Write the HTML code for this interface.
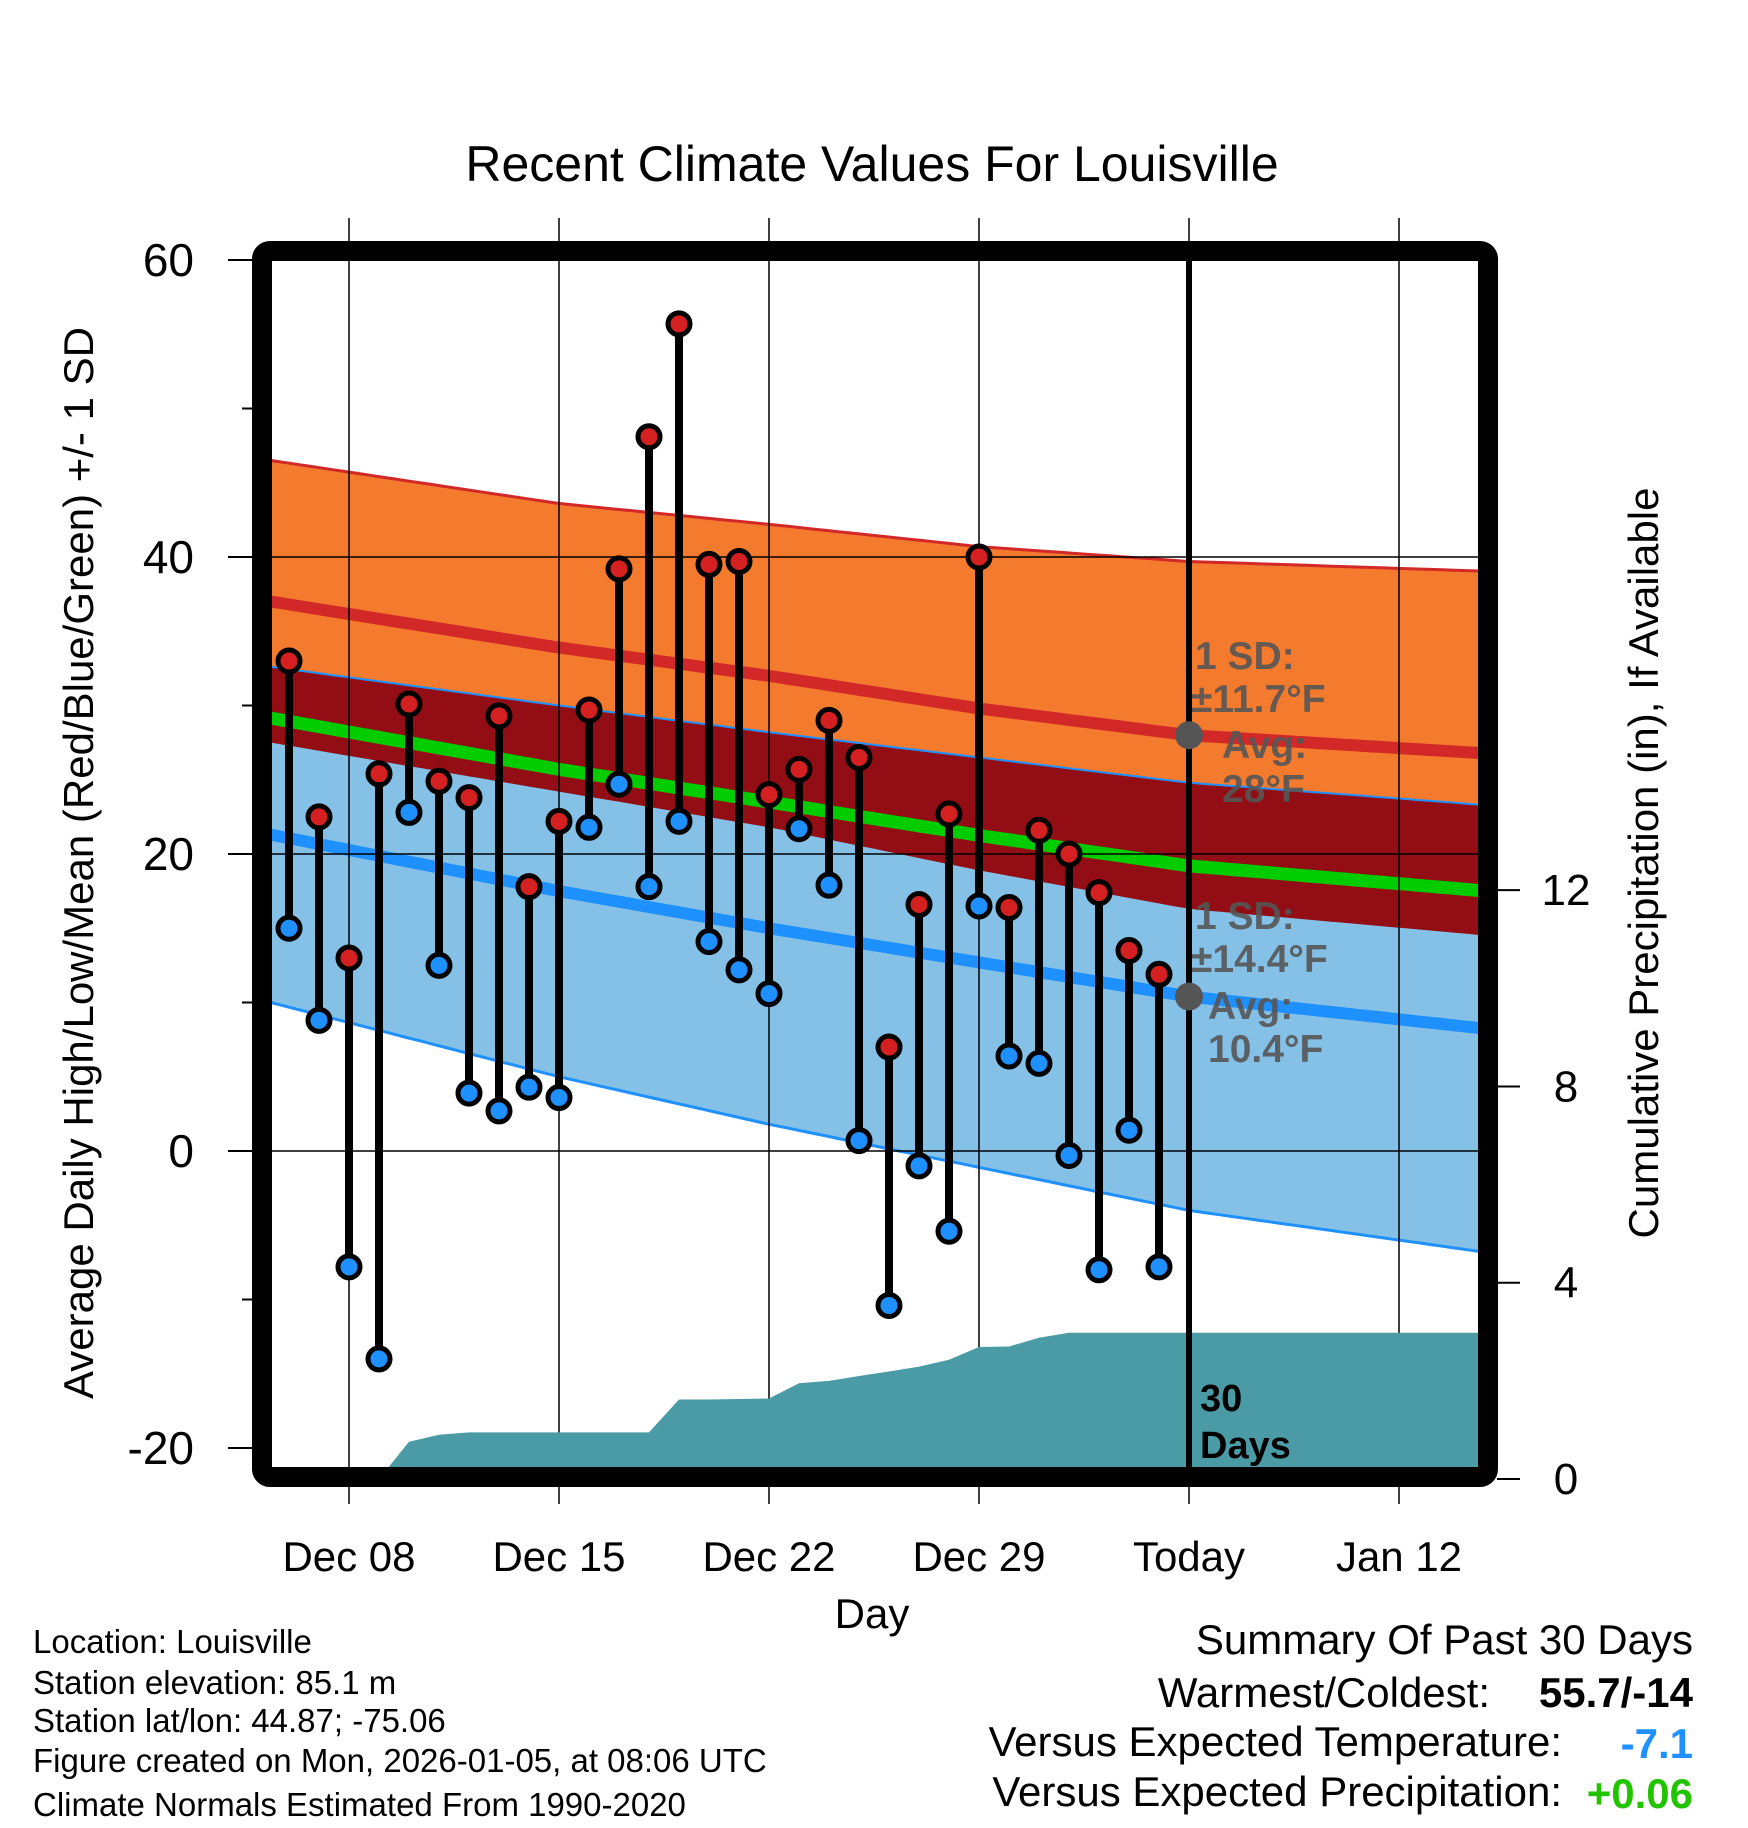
<!DOCTYPE html>
<html><head><meta charset="utf-8"><style>
html,body{margin:0;padding:0;background:#fff;}
svg{display:block;font-family:"Liberation Sans",Arial,sans-serif;}
</style></head><body>
<svg id="chart" width="1748" height="1828" viewBox="0 0 1748 1828" xmlns="http://www.w3.org/2000/svg">
<text x="872" y="181" font-size="50" text-anchor="middle">Recent Climate Values For Louisville</text>
<defs><clipPath id="plotclip"><rect x="262" y="251" width="1225" height="1227"/></clipPath></defs>
<g id="bands" clip-path="url(#plotclip)"></g>
<g id="grid"></g>
<g id="precip" clip-path="url(#plotclip)"></g>
<g id="marks"></g>
<rect x="262" y="251" width="1226" height="1226" rx="8" fill="none" stroke="#000" stroke-width="20"/>
<g id="axes"></g>
<g fill="#555" fill-opacity="0.9" font-weight="bold" font-size="39">
<text x="1195" y="669">1 SD:</text>
<text x="1191" y="712">±11.7°F</text>
<text x="1222" y="758">Avg:</text>
<text x="1222" y="802">28°F</text>
</g>
<g fill="#555" fill-opacity="0.9" font-weight="bold" font-size="39">
<text x="1195" y="929">1 SD:</text>
<text x="1191" y="972">±14.4°F</text>
<text x="1208" y="1019">Avg:</text>
<text x="1208" y="1062">10.4°F</text>
</g>
<g font-weight="bold" font-size="38">
<text x="1200" y="1411">30</text>
<text x="1200" y="1458">Days</text>
</g>
<text x="872" y="1628" font-size="42" text-anchor="middle">Day</text>
<text transform="translate(93,863) rotate(-90)" font-size="42" text-anchor="middle">Average Daily High/Low/Mean (Red/Blue/Green) +/- 1 SD</text>
<text transform="translate(1658,863) rotate(-90)" font-size="42" text-anchor="middle">Cumulative Precipitation (in), If Available</text>
<g font-size="33">
<text x="33" y="1653">Location: Louisville</text>
<text x="33" y="1694">Station elevation: 85.1 m</text>
<text x="33" y="1732">Station lat/lon: 44.87; -75.06</text>
<text x="33" y="1772">Figure created on Mon, 2026-01-05, at 08:06 UTC</text>
<text x="33" y="1816">Climate Normals Estimated From 1990-2020</text>
</g>
<g font-size="42">
<text x="1693" y="1654" text-anchor="end">Summary Of Past 30 Days</text>
<text x="1490" y="1707" text-anchor="end">Warmest/Coldest:</text>
<text x="1693" y="1707" text-anchor="end" font-weight="bold">55.7/-14</text>
<text x="1562" y="1756" text-anchor="end">Versus Expected Temperature:</text>
<text x="1693" y="1758" text-anchor="end" font-weight="bold" fill="#1E90FF">-7.1</text>
<text x="1562" y="1806" text-anchor="end">Versus Expected Precipitation:</text>
<text x="1693" y="1808" text-anchor="end" font-weight="bold" fill="#22C400">+0.06</text>
</g>
</svg>
<script>
const days = [-2,-1,0,1,2,3,4,5,6,7,8,9,10,11,12,13,14,15,16,17,18,19,20,21,22,23,24,25,26,27];
const highs = [33,22.5,13,25.4,30.1,24.9,23.8,29.3,17.8,22.2,29.7,39.2,48.1,55.7,39.5,39.7,24.0,25.7,29.0,26.5,7.0,16.6,22.7,40.0,16.4,21.6,20.0,17.4,13.5,11.9];
const lows = [15,8.8,-7.8,-14,22.8,12.5,3.9,2.7,4.3,3.6,21.8,24.7,17.8,22.2,14.1,12.2,10.6,21.7,17.9,0.7,-10.4,-1.0,-5.4,16.5,6.4,5.9,-0.3,-8.0,1.4,-7.8];
const precipCum = [0,0,0,0,0.76,0.9,0.95,0.95,0.95,0.95,0.95,0.95,0.95,1.62,1.62,1.63,1.64,1.95,2.0,2.1,2.19,2.29,2.43,2.69,2.70,2.88,2.98,2.98,2.98,2.98];
const normDays = [-2.6,7,14,21,28,38.5];
const normHigh = [37.0,33.9,32.0,29.8,28.0,26.7];
const sdHigh = [9.5,9.7,10.2,10.9,11.7,12.3];
const normLow = [21.3,17.5,15.0,12.7,10.4,8.1];
const sdLow = [11.3,12.5,13.2,13.8,14.4,15.1];
const xTickDays = [0,7,14,21,28,35];
const xTickLabels = ["Dec 08","Dec 15","Dec 22","Dec 29","Today","Jan 12"];
const yTicks = [60,40,20,0,-20];
const yMinor = [50,30,10,-10];
const y2Ticks = [0,4,8,12];
const todayDay = 28;

const NS="http://www.w3.org/2000/svg";
const X = d => 349 + d*30;
const Y = v => 1151 - v*14.85;
const Y2 = p => 1479 - p*49.07;
function el(tag, attrs, parent){const e=document.createElementNS(NS,tag);for(const k in attrs)e.setAttribute(k,attrs[k]);parent.appendChild(e);return e;}
function interp(arr, d){
  for(let i=0;i<normDays.length-1;i++){
    if(d<=normDays[i+1]){const t=(d-normDays[i])/(normDays[i+1]-normDays[i]);return arr[i]+(arr[i+1]-arr[i])*t;}
  }
  return arr[arr.length-1];
}
const samples=[];for(let i=0;i<=100;i++)samples.push(-2.6+i*(38.5+2.6)/100);
const f = (fn)=>samples.map(d=>[X(d),Y(fn(d))]);
const pts = a=>a.map(p=>p[0].toFixed(1)+","+p[1].toFixed(1)).join(" ");
const hi = d=>interp(normHigh,d), sh=d=>interp(sdHigh,d), lo=d=>interp(normLow,d), sl=d=>interp(sdLow,d);
const bands=document.getElementById('bands');
function band(top,bot,fill,name){const p=el('polygon',{points:pts(f(top).concat(f(bot).reverse())),fill:fill},bands);

}
band(d=>hi(d)+sh(d), d=>hi(d)-sh(d), '#F47A2E','high-sd-band');
band(d=>lo(d)+sl(d), d=>lo(d)-sl(d), '#85C1E6','low-sd-band');
band(d=>Math.min(lo(d)+sl(d),hi(d)+sh(d)), d=>Math.max(hi(d)-sh(d),lo(d)-sl(d)), '#930D14','overlap-band');
function line(fn,color,w,name){const p=el('polyline',{points:pts(f(fn)),fill:'none',stroke:color,'stroke-width':w},bands);

}
line(d=>hi(d)+sh(d),'#D22828',3,'high-plus-sd-line');
line(d=>hi(d),'#D22828',12,'normal-high-line');
line(d=>lo(d)+sl(d),'#1E90FF',2,'low-plus-sd-line');
line(d=>lo(d)-sl(d),'#1E90FF',3,'low-minus-sd-line');
line(d=>lo(d),'#1E90FF',12,'normal-low-line');
line(d=>(hi(d)+lo(d))/2,'#00CC00',13,'normal-mean-line');

const grid=document.getElementById('grid');
[40,20,0].forEach(v=>{const l=el('line',{x1:262,x2:1488,y1:Y(v),y2:Y(v),stroke:'#000','stroke-width':1.5},grid);

});
xTickDays.forEach(d=>{const l=el('line',{x1:X(d),x2:X(d),y1:218,y2:1504,stroke:'#000','stroke-width':1.5},grid);

});

const precip=document.getElementById('precip');
const pp=[[X(days[0]),Y2(0)]];
days.forEach((d,i)=>pp.push([X(d),Y2(precipCum[i])]));
pp.push([1490,Y2(precipCum[precipCum.length-1])]);pp.push([1490,Y2(0)]);
const pf=el('polygon',{points:pts(pp),fill:'#4A9BA5'},precip);



const marks=document.getElementById('marks');
const tl=el('line',{x1:X(todayDay),x2:X(todayDay),y1:255,y2:1475,stroke:'#000','stroke-width':6},marks);


[[hi(todayDay)],[lo(todayDay)]].forEach((v,i)=>{const c=el('circle',{cx:X(todayDay),cy:Y(v[0]),r:14,fill:'#555'},marks);

});
days.forEach((d,i)=>{
  const s=el('line',{x1:X(d),x2:X(d),y1:Y(highs[i]),y2:Y(lows[i]),stroke:'#000','stroke-width':8},marks);
  
  
  const h=el('circle',{cx:X(d),cy:Y(highs[i]),r:11,fill:'#D42020',stroke:'#000','stroke-width':5},marks);
  
  
  const l=el('circle',{cx:X(d),cy:Y(lows[i]),r:11,fill:'#1E90FF',stroke:'#000','stroke-width':5},marks);
  
  
});

const axes=document.getElementById('axes');
yTicks.forEach(v=>{
  const t=el('line',{x1:228,x2:252,y1:Y(v),y2:Y(v),stroke:'#000','stroke-width':2},axes);
  
  
  const tx=el('text',{x:194,y:Y(v)+16,'font-size':46,'text-anchor':'end'},axes);tx.textContent=v;
  
  
});
yMinor.forEach(v=>{const t=el('line',{x1:242,x2:252,y1:Y(v),y2:Y(v),stroke:'#000','stroke-width':2},axes);

});
y2Ticks.forEach(p=>{
  const t=el('line',{x1:1497,x2:1520,y1:Y2(p),y2:Y2(p),stroke:'#000','stroke-width':2},axes);
  
  
  const tx=el('text',{x:1566,y:Y2(p)+15,'font-size':44,'text-anchor':'middle'},axes);tx.textContent=p;
  
  
});
xTickDays.forEach((d,i)=>{
  const tx=el('text',{x:X(d),y:1571,'font-size':42,'text-anchor':'middle'},axes);tx.textContent=xTickLabels[i];
  
  
});
</script>
</body></html>
